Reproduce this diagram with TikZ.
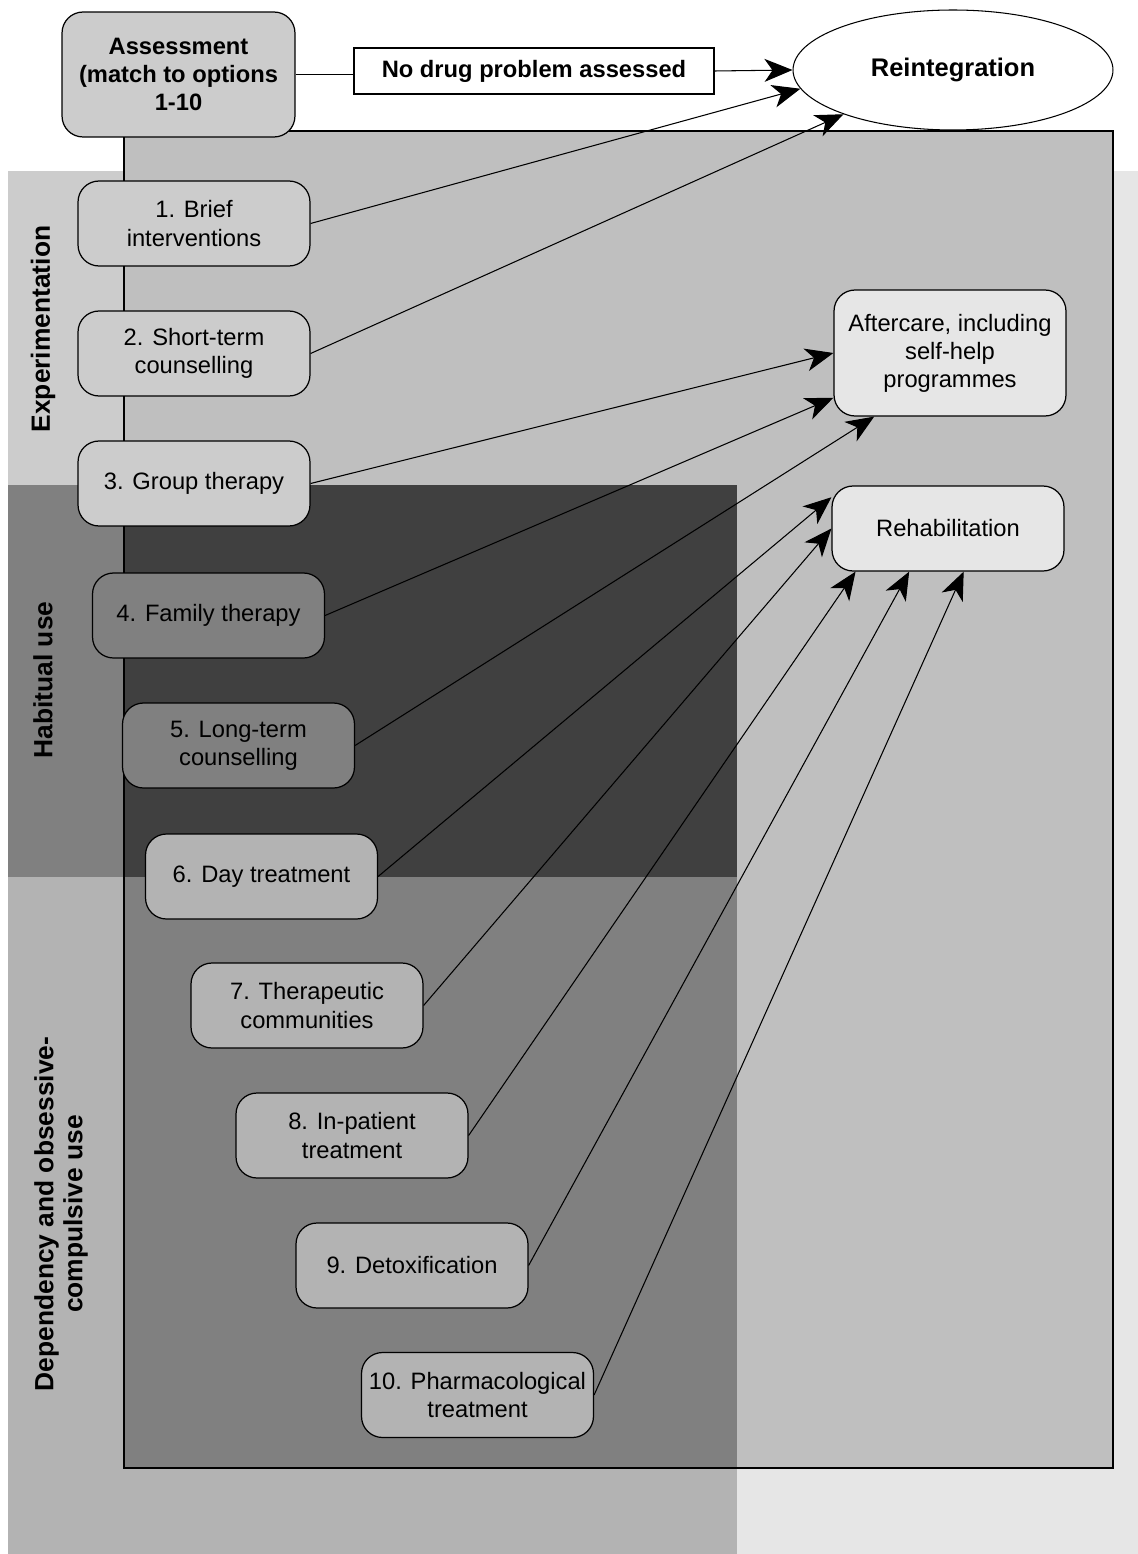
\documentclass[tikz,border=0pt]{standalone}
\usepackage{fontspec}
\setmainfont{Liberation Sans}
\usetikzlibrary{arrows.meta,shapes.geometric}
\definecolor{paleband}{HTML}{E6E6E6}
\definecolor{expband}{HTML}{CCCCCC}
\definecolor{habband}{HTML}{808080}
\definecolor{depband}{HTML}{B3B3B3}
\definecolor{framefill}{HTML}{BFBFBF}
\definecolor{habdark}{HTML}{404040}
\definecolor{depdark}{HTML}{808080}
\tikzset{
  option/.style={draw, line width=0.7pt, rounded corners=0.42cm, align=center,
    minimum width=4.64cm, minimum height=1.7cm, inner sep=1pt,
    font=\fontsize{13.5}{16}\selectfont},
  phase/.style={rotate=90, align=center, font=\bfseries\fontsize{15}{16.5}\selectfont},
  head/.style={-{Stealth[length=0.56cm,width=0.46cm,inset=0.16cm]}, line width=0.6pt},
}
\begin{document}
\begin{tikzpicture}[x=0.02cm,y=-0.02cm]
\useasboundingbox (0,0) rectangle (1138,1554);

\fill[paleband] (8,171) rectangle (1138,1554);
\fill[expband] (8,171) rectangle (737,485);
\fill[habband] (8,485) rectangle (737,877);
\fill[depband] (8,877) rectangle (737,1554);
\fill[framefill] (124,131) rectangle (1113,1468);
\fill[habdark] (124,485) rectangle (737,877);
\fill[depdark] (124,877) rectangle (737,1468);
\draw[line width=0.8pt] (124,131) rectangle (1113,1468);

\node[phase] at (43,329) (exp) {Experimentation};
\node[phase] at (43,680) (hab) {Habitual use};
\node[phase] at (61,1214) (dep) {Dependency and obsessive-\\compulsive use};

\node[option, fill=expband, minimum width=4.66cm, minimum height=2.5cm,
  font=\bfseries\fontsize{13.5}{16}\selectfont] at (178.5,74.5) (assess) {Assessment\\(match to options\\1-10};
\node[draw, fill=white, line width=0.7pt, minimum width=7.2cm, minimum height=0.92cm,
  font=\bfseries\fontsize{13.5}{16}\selectfont] at (534,71) (nodrug) {No drug problem assessed};
\node[draw, ellipse, fill=white, line width=0.6pt, minimum width=6.4cm, minimum height=2.4cm,
  font=\bfseries\fontsize{14.5}{16}\selectfont] at (953,70) (reint) {Reintegration};

\node[option, fill=expband] at (194,223.5) (o1) {1. Brief\\interventions};
\node[option, fill=expband] at (194,353.5) (o2) {2. Short-term\\counselling};
\node[option, fill=expband] at (194,483.5) (o3) {3. Group therapy};
\node[option, fill=habband] at (208.5,615.5) (o4) {4. Family therapy};
\node[option, fill=habband] at (238.5,745.5) (o5) {5. Long-term\\counselling};
\node[option, fill=depband] at (261.5,876.5) (o6) {6. Day treatment};
\node[option, fill=depband] at (307,1005.5) (o7) {7. Therapeutic\\communities};
\node[option, fill=depband] at (352,1135.5) (o8) {8. In-patient\\treatment};
\node[option, fill=depband] at (412,1265.5) (o9) {9. Detoxification};
\node[option, fill=depband] at (477.5,1395) (o10) {10. Pharmacological\\treatment};

\node[option, fill=paleband, minimum height=2.52cm] at (950,353) (after) {Aftercare, including\\self-help\\programmes};
\node[option, fill=paleband] at (948,528.5) (rehab) {Rehabilitation};

\draw[line width=0.6pt] (assess.east) -- (assess.east -| nodrug.west);
\draw[head] (nodrug.east) -- (reint.west);

\draw[head] (o1.east) -- (reint.187);
\draw[head] (o2.east) -- (reint.202);
\draw[head] (o3.east) -- (after.west);
\draw[head] (o4.east) -- (after.201);
\draw[head] (o5.east) -- (after.220);
\draw[head] (o6.east) -- (rehab.165);
\draw[head] (o7.east) -- (rehab.west);
\draw[head] (o8.east) -- (rehab.205);
\draw[head] (o9.east) -- (rehab.228);
\draw[head] (o10.east) -- (rehab.290);
\end{tikzpicture}
\end{document}
